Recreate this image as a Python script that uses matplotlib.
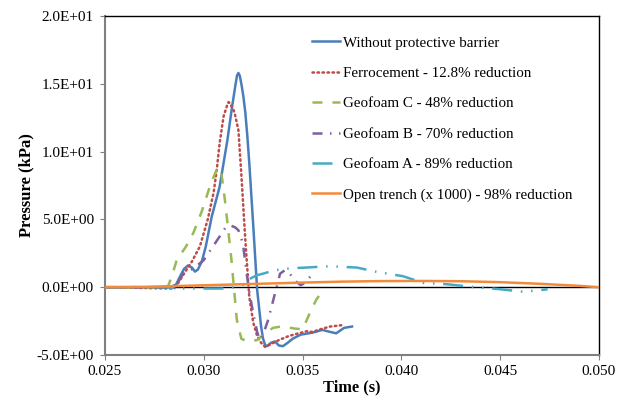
import matplotlib
matplotlib.use("Agg")
import matplotlib.pyplot as plt
from matplotlib.ticker import FuncFormatter, MultipleLocator

plt.rcParams['font.family'] = ['Liberation Serif', 'DejaVu Serif']

# Time (s) and pressure (kPa)
t_none = [0.025, 0.0283, 0.0286, 0.0288, 0.0290, 0.0292, 0.0294, 0.02955, 0.0297, 0.0299, 0.0301,
          0.0304, 0.0308, 0.0312, 0.0314, 0.0316, 0.03168, 0.03175, 0.03182, 0.0319, 0.0320, 0.0321,
          0.0322, 0.0323, 0.0325, 0.0327, 0.0329, 0.0330, 0.0331, 0.0332, 0.0334, 0.0336, 0.0338, 0.0340,
          0.0342, 0.0345, 0.0349, 0.0355, 0.0360, 0.0364, 0.0367, 0.0369, 0.0371, 0.0375]
p_none = [0, 0, 0.2, 0.8, 1.35, 1.6, 1.45, 1.15, 1.3, 1.9, 3.0,
          5.2, 7.4, 10.9, 13.0, 14.9, 15.6, 15.8, 15.6, 15.0, 14.1, 12.9,
          11.2, 9.2, 4.6, -0.2, -2.9, -3.8, -4.25, -4.35, -4.1, -4.0, -4.3, -4.35,
          -4.15, -3.8, -3.5, -3.35, -3.15, -3.3, -3.4, -3.2, -3.0, -2.9]

t_ferro = [0.025, 0.0284, 0.0287, 0.0290, 0.0294, 0.0298, 0.0302, 0.0305, 0.03065, 0.0308, 0.0310,
           0.0312, 0.03125, 0.0313, 0.0315, 0.0316, 0.03175, 0.0319, 0.0321, 0.0323, 0.0325, 0.0327,
           0.0329, 0.0331, 0.0334, 0.0338, 0.0343, 0.0348, 0.0352, 0.0355, 0.0359, 0.0364, 0.0370]
p_ferro = [0, -0.1, 0.3, 1.0, 1.9, 3.0, 5.0, 7.0, 8.6, 10.6, 12.6,
           13.5, 13.65, 13.6, 13.1, 12.6, 11.6, 8.3, 3.5, -0.7, -2.6, -3.6,
           -4.1, -4.4, -4.2, -3.9, -3.6, -3.4, -3.25, -3.3, -3.1, -2.9, -2.8]

t_geoC = [0.025, 0.0280, 0.0282, 0.0284, 0.02863, 0.0291, 0.02947, 0.0299, 0.0303, 0.0306, 0.03073,
          0.0309, 0.03107, 0.0312, 0.0314, 0.03167, 0.0319, 0.0322, 0.0327, 0.0331, 0.0335, 0.0339,
          0.0342, 0.0346, 0.0350, 0.03546, 0.0357, 0.0360]
p_geoC = [0, 0, 0.1, 0.9, 2.0, 3.0, 4.0, 5.6, 7.4, 8.5, 8.85,
          8.3, 6.4, 4.7, 2.0, -2.4, -3.8, -4.0, -3.9, -3.4, -3.0, -2.9,
          -2.95, -3.05, -3.1, -1.6, -0.9, -0.3]

t_geoB = [0.025, 0.0283, 0.02846, 0.02896, 0.0295, 0.0300, 0.03023, 0.0306, 0.0309, 0.0311, 0.03133,
          0.0316, 0.03175, 0.0319, 0.0320, 0.03217, 0.0323, 0.0325, 0.0327, 0.03284, 0.0330, 0.03326,
          0.0336, 0.03386, 0.0341, 0.0343, 0.0346, 0.0349, 0.0351, 0.0354]
p_geoB = [0, 0, -0.2, 1.0, 1.4, 2.0, 2.5, 3.3, 3.96, 4.4, 4.57,
          4.4, 4.2, 3.6, 3.0, 1.0, -0.3, -1.94, -3.3, -3.9, -3.5, -2.4,
          -0.47, 1.0, 1.25, 1.1, 0.5, 0.15, 0.3, 0.8]

t_geoA = [0.025, 0.0280, 0.0290, 0.0300, 0.0310, 0.0316, 0.0320, 0.03217, 0.03268, 0.0330, 0.0336,
          0.0344, 0.0352, 0.0358, 0.0364, 0.0370, 0.03774, 0.03875, 0.0395, 0.04008, 0.04111, 0.0423,
          0.0436, 0.0450, 0.0461, 0.0468, 0.0474]
p_geoA = [0, 0, -0.1, -0.1, -0.1, 0, 0.2, 0.5, 0.88, 1.0, 1.25,
          1.4, 1.45, 1.5, 1.55, 1.5, 1.45, 1.13, 0.95, 0.81, 0.32, 0.22,
          0.02, -0.15, -0.32, -0.25, -0.15]

t_trench = [0.025, 0.027, 0.029, 0.031, 0.033, 0.035, 0.037, 0.039, 0.041, 0.043, 0.045, 0.047, 0.049, 0.050]
p_trench = [0, 0.02, 0.1, 0.18, 0.26, 0.34, 0.41, 0.45, 0.46, 0.44, 0.37, 0.25, 0.1, 0]

labels = ["Without protective barrier", "Ferrocement - 12.8% reduction", "Geofoam C - 48% reduction",
          "Geofoam B - 70% reduction", "Geofoam A - 89% reduction", "Open trench (x 1000) - 98% reduction"]

fig = plt.figure(figsize=(6.27, 3.96), dpi=100)
ax = fig.add_axes([105 / 627, 41 / 396, 494 / 627, 339 / 396])

lw = 1.8
ax.axhline(0, color='black', lw=1.0, zorder=1)
ax.plot(t_none, p_none, color='#4A7EBB', lw=lw, label=labels[0], zorder=3)
ax.plot(t_ferro, p_ferro, color='#BE4B48', lw=lw, ls=(0, (0.6, 1.4)), dash_capstyle='round', label=labels[1], zorder=3)
ax.plot(t_geoC, p_geoC, color='#98B954', lw=lw, ls=(0, (4, 4)), label=labels[2], zorder=3)
ax.plot(t_geoB, p_geoB, color='#7D5FA0', lw=lw, ls=(0, (4, 3, 0.6, 3)), label=labels[3], zorder=3)
ax.plot(t_geoA, p_geoA, color='#46AAC5', lw=lw, ls=(0, (8, 3.5, 0.6, 3.5, 0.6, 3.5)), label=labels[4], zorder=3)
ax.plot(t_trench, p_trench, color='#F28A3C', lw=lw, label=labels[5], zorder=3)

ax.set_xlim(0.025, 0.050)
ax.set_ylim(-5, 20)
ax.xaxis.set_major_locator(MultipleLocator(0.005))
ax.yaxis.set_major_locator(MultipleLocator(5))
ax.xaxis.set_major_formatter(FuncFormatter(lambda v, pos: f"{v:.3f}"))
ax.yaxis.set_major_formatter(FuncFormatter(lambda v, pos: f"{v:.1E}"))
ax.tick_params(labelsize=11, direction='out', length=3.6, color='#808080')
ax.tick_params(axis='y', pad=4.5)

for side in ['left', 'bottom']:
    ax.spines[side].set_color('#808080')
    ax.spines[side].set_linewidth(1.5)
for side in ['top', 'right']:
    ax.spines[side].set_color('black')
    ax.spines[side].set_linewidth(1.0)

ax.set_xlabel("Time (s)", fontsize=11.8, fontweight='bold', labelpad=1)
ax.set_ylabel("Pressure (kPa)", fontsize=12, fontweight='bold', labelpad=1.5)

ax.legend(loc='upper left', bbox_to_anchor=(312 / 627, 1 - 36 / 396), bbox_transform=fig.transFigure,
          frameon=False, fontsize=10.8, handlelength=1.87, handletextpad=0.2, labelspacing=1.13,
          borderpad=0, borderaxespad=0)

fig.savefig("out.png", dpi=100)
